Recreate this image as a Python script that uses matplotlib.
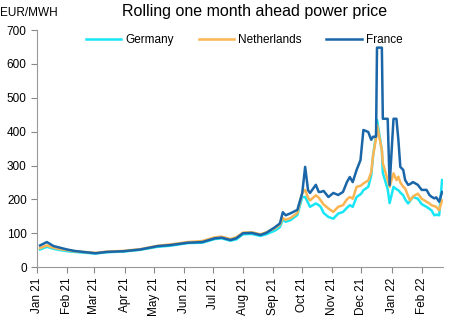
import pandas as pd
import matplotlib
matplotlib.use("Agg")
import matplotlib.pyplot as plt
import matplotlib.dates as mdates

dates = ["2021-01-04", "2021-01-11", "2021-01-18", "2021-01-25", "2021-02-01", "2021-02-08",
         "2021-02-17", "2021-03-02", "2021-03-14", "2021-03-31", "2021-04-17", "2021-05-05",
         "2021-05-18", "2021-06-05", "2021-06-20", "2021-07-03", "2021-07-10", "2021-07-19",
         "2021-07-25", "2021-08-01", "2021-08-10", "2021-08-19", "2021-08-25", "2021-09-03",
         "2021-09-08", "2021-09-11", "2021-09-14", "2021-09-19", "2021-09-26", "2021-10-01",
         "2021-10-04", "2021-10-07", "2021-10-09", "2021-10-15", "2021-10-18", "2021-10-20",
         "2021-10-23", "2021-10-28", "2021-11-02", "2021-11-07", "2021-11-12", "2021-11-16",
         "2021-11-19", "2021-11-22", "2021-11-26", "2021-11-30", "2021-12-01", "2021-12-03",
         "2021-12-08", "2021-12-11", "2021-12-13", "2021-12-16", "2021-12-17", "2021-12-22",
         "2021-12-23", "2021-12-28", "2021-12-30", "2022-01-03", "2022-01-06", "2022-01-08",
         "2022-01-10", "2022-01-13", "2022-01-15", "2022-01-18", "2022-01-20", "2022-01-23",
         "2022-01-25", "2022-01-28", "2022-02-01", "2022-02-06", "2022-02-09", "2022-02-11",
         "2022-02-14", "2022-02-16", "2022-02-19", "2022-02-22"]

france = [64, 74, 62, 57, 52, 48, 45, 41, 45, 47, 52, 62, 65, 72, 74, 85, 87, 80, 85, 100,
          101, 95, 101, 118, 129, 162, 153, 159, 169, 219, 296, 227, 219, 243, 222, 222,
          225, 207, 219, 213, 222, 251, 266, 251, 287, 316, 346, 405, 399, 376, 385, 385,
          648, 648, 438, 438, 242, 438, 438, 376, 296, 287, 257, 243, 245, 251, 248, 243,
          228, 228, 213, 208, 203, 206, 193, 222]
netherlands = [56, 64, 57, 53, 50, 47, 45, 42, 46, 48, 53, 63, 67, 74, 77, 88, 90, 83, 88, 102,
               103, 97, 103, 115, 125, 145, 140, 145, 160, 219, 228, 205, 197, 212, 205, 197,
               185, 173, 163, 178, 183, 200, 207, 202, 237, 240, 242, 247, 256, 280, 330, 380,
               420, 345, 307, 257, 237, 277, 257, 267, 250, 237, 232, 210, 197, 208, 212, 217,
               202, 193, 188, 183, 180, 178, 168, 197]
germany = [52, 60, 54, 50, 47, 45, 43, 40, 44, 46, 51, 60, 63, 71, 72, 83, 85, 78, 82, 97,
           98, 92, 97, 108, 118, 140, 134, 139, 154, 207, 207, 190, 178, 188, 183, 178,
           160, 148, 143, 158, 163, 175, 183, 178, 207, 215, 218, 227, 237, 270, 330, 390,
           435, 345, 278, 230, 189, 237, 230, 227, 220, 212, 200, 188, 195, 208, 205, 202,
           186, 178, 172, 168, 153, 155, 153, 257]

plt.rcParams['font.family'] = ['Liberation Sans', 'DejaVu Sans']

x = pd.to_datetime(dates)
fig = plt.figure(figsize=(4.53, 3.23), dpi=100)
ax = fig.add_axes([0.082, 0.173, 0.896, 0.734])

ax.plot(x, germany, color='#19E6F5', lw=1.8, label='Germany')
ax.plot(x, netherlands, color='#FBB552', lw=1.8, label='Netherlands')
ax.plot(x, france, color='#1A66A8', lw=1.8, label='France')

ax.set_ylim(0, 700)
ax.set_yticks(range(0, 701, 100))
ax.set_xlim(pd.Timestamp("2021-01-01"), pd.Timestamp("2022-02-23"))
ax.xaxis.set_major_locator(mdates.MonthLocator())
ax.xaxis.set_major_formatter(mdates.DateFormatter('%b %y'))
plt.setp(ax.get_xticklabels(), rotation=90)
ax.tick_params(labelsize=8.5, color='#888888', length=4)

for s in ['top', 'right']:
    ax.spines[s].set_visible(False)
for s in ['left', 'bottom']:
    ax.spines[s].set_color('#999999')

ax.legend(loc='center', bbox_to_anchor=(0.51, 0.958), ncol=3, frameon=False,
          fontsize=8.5, handlelength=3.0, columnspacing=2.1, handletextpad=0.35)

fig.text(0.563, 0.965, 'Rolling one month ahead power price', ha='center', va='center', fontsize=11.5)
fig.text(0.0, 0.96, 'EUR/MWH', ha='left', va='center', fontsize=8.5)

fig.savefig('out.png', dpi=100)
